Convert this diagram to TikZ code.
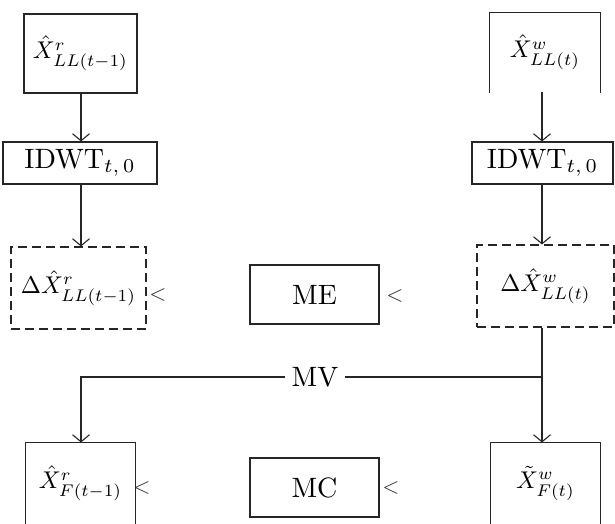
\documentclass[tikz,border=0pt]{standalone}
\usepackage{amsmath}
\usetikzlibrary{arrows.meta}
\newcommand{\bigtxt}[1]{\scalebox{2.8}{#1}}
\newcommand{\bigmath}[1]{\scalebox{2.42}{#1}}
\begin{document}
\begin{tikzpicture}[x=1pt,y=-1pt,
  ln/.style={line width=1.1pt,draw=black!85},
  arr/.style={ln,-{Straight Barb[length=7pt,width=17pt,line width=1.1pt]}},
  txt/.style={inner sep=0pt},
  boxed/.style={rectangle,inner sep=0pt,line width=1.1pt},
  solidbox/.style={boxed,draw=black!85},
  dashbox/.style={boxed,draw=black!85,dash pattern=on 9pt off 5pt},
  chev/.style={inner sep=0pt,text=black!80}]
\useasboundingbox (0,0) rectangle (615,524);
% top row
\node[solidbox,minimum width=113pt,minimum height=79pt] (xr) at (80.5,53.5) {\bigmath{$\hat{X}^{r}_{LL(t-1)}$}};
\node[boxed,minimum width=110pt,minimum height=79pt] (xw) at (545,52.5) {\bigmath{$\hat{X}^{w}_{LL(t)}$}};
\draw[ln] (xw.south west) -- (xw.north west) -- (xw.north east) -- (xw.south east);
% IDWT
\node[solidbox,minimum width=154pt,minimum height=42pt] (il) at (80,163) {\bigtxt{IDWT$_{t,\,0}$}};
\node[solidbox,minimum width=141pt,minimum height=42pt] (iw) at (542.5,163) {\bigtxt{IDWT$_{t,\,0}$}};
% dashed
\node[dashbox,minimum width=135pt,minimum height=82pt] (dr) at (78.5,288) {\bigmath{$\Delta\hat{X}^{r}_{LL(t-1)}$}};
\node[dashbox,minimum width=137pt,minimum height=82pt] (dw) at (545.5,286) {\bigmath{$\Delta\hat{X}^{w}_{LL(t)}$}};
\node[solidbox,minimum width=129pt,minimum height=59pt] (me) at (314.5,294.5) {\bigtxt{ME}};
% bottom
\node[solidbox,minimum width=129pt,minimum height=59pt] (mc) at (314.5,487.5) {\bigtxt{MC}};
\node[boxed,minimum width=109pt,minimum height=81pt] (br) at (80.5,483.5) {\bigmath{$\hat{X}^{r}_{F(t-1)}$}};
\draw[ln] (br.south west) -- (br.north west) -- (br.north east) -- (br.south east);
\node[boxed,minimum width=109pt,minimum height=81pt] (bw) at (545.5,483.5) {\bigmath{$\tilde{X}^{w}_{F(t)}$}};
\draw[ln] (bw.south west) -- (bw.north west) -- (bw.north east) -- (bw.south east);
% chevrons
\node[chev] (c1) at (158,295) {\scalebox{2.2}{$<$}};
\node[chev] (c2) at (395,296) {\scalebox{2.2}{$<$}};
\node[chev] (c3) at (142,488) {\scalebox{2.2}{$<$}};
\node[chev] (c4) at (391,488) {\scalebox{2.2}{$<$}};
% MV
\node[txt,inner xsep=6pt] (mv) at (315,377) {\bigtxt{MV}};
\coordinate (jr) at (542,377);
\coordinate (jl) at (81,377);
% connectors
\draw[arr] (81,93) coordinate (a1) -- (a1 |- il.north);
\draw[arr] (81,184) coordinate (a2) -- (a2 |- dr.north);
\draw[arr] (542,92) coordinate (a3) -- (a3 |- iw.north);
\draw[arr] (542,184) coordinate (a4) -- (a4 |- dw.north);
\draw[arr] (jr |- dw.south) -- (jr |- bw.north);
\draw[ln] (jr) -- (mv.east);
\draw[arr] (mv.west) -- (jl) -- (jl |- br.north);
\end{tikzpicture}
\end{document}
